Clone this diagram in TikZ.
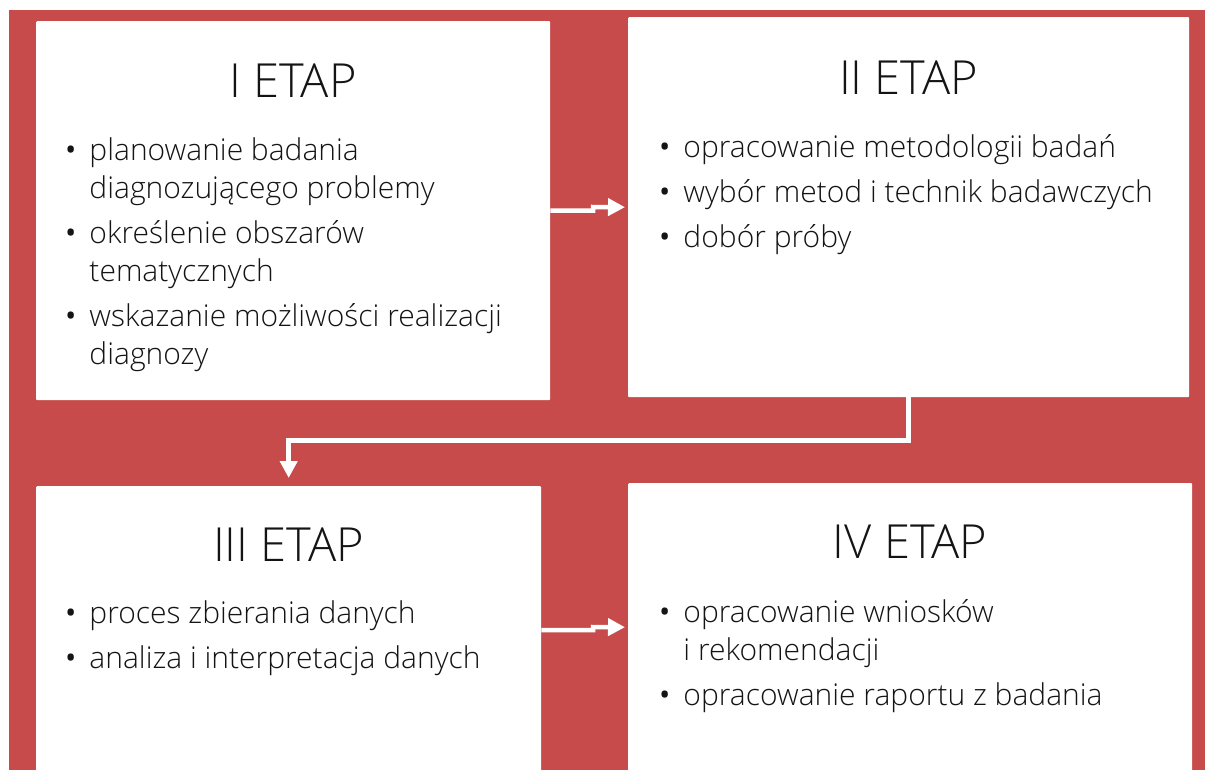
\documentclass[tikz,border=0pt]{standalone}
\usepackage{fontspec}
\setmainfont{Open Sans Light}
\newfontfamily\pktfont{Open Sans}
\usetikzlibrary{arrows.meta,positioning,calc}
\definecolor{tlo}{RGB}{198,75,74}
\definecolor{tekst}{RGB}{20,20,20}
\newcommand{\pkt}{{\pktfont\textbullet}}

\tikzset{
  etap/.style={fill=white,anchor=north west,inner sep=0pt,rounded corners=1pt},
  tytul/.style={anchor=base,inner sep=0pt,text=tekst,
                font=\fontsize{47}{47}\selectfont},
  lista/.style={anchor=base west,inner sep=0pt,text=tekst,
                font=\fontsize{30}{38}\selectfont},
  strzalka/.style={draw=white,line width=4.5pt,
                   -{Triangle[length=17pt,width=17pt]}}
}

\begin{document}
\begin{tikzpicture}[x=1pt,y=-1pt]
  \useasboundingbox (0,0) rectangle (1205,769);
  \clip (0,0) rectangle (1205,769);
  \fill[tlo] (9,10) rectangle (1215,780);

  % bloki etapow
  \node[etap,minimum width=514pt,minimum height=379pt] (b1) at (36,21) {};
  \node[etap,minimum width=561pt,minimum height=380pt] (b2) at (628,17) {};
  \node[etap,minimum width=505pt,minimum height=288pt] (b3) at (36,486) {};
  \node[etap,minimum width=564pt,minimum height=288pt] (b4) at (628,483) {};

  \node[tytul] (t1) at (293,97) {I ETAP};
  \node[tytul] (t2) at (908.5,94) {II ETAP};
  \node[tytul] (t3) at (288.5,561) {III ETAP};
  \node[tytul] (t4) at (910,558) {IV ETAP};

  \node[lista] (l1) at (65,160) {\begin{tabular}[t]{@{}l@{\hspace{13pt}}l@{}}
    \pkt & planowanie badania\\
         & diagnozującego problemy\\[7pt]
    \pkt & określenie obszarów\\
         & tematycznych\\[7pt]
    \pkt & wskazanie możliwości realizacji\\
         & diagnozy
  \end{tabular}};
  \node[lista] (l2) at (659,157) {\begin{tabular}[t]{@{}l@{\hspace{13pt}}l@{}}
    \pkt & opracowanie metodologii badań\\[7pt]
    \pkt & wybór metod i technik badawczych\\[7pt]
    \pkt & dobór próby
  \end{tabular}};
  \node[lista] (l3) at (65,623) {\begin{tabular}[t]{@{}l@{\hspace{13pt}}l@{}}
    \pkt & proces zbierania danych\\[7pt]
    \pkt & analiza i interpretacja danych
  \end{tabular}};
  \node[lista] (l4) at (659,622) {\begin{tabular}[t]{@{}l@{\hspace{13pt}}l@{}}
    \pkt & opracowanie wniosków\\
         & i rekomendacji\\[7pt]
    \pkt & opracowanie raportu z badania
  \end{tabular}};

  % polaczenia
  \draw[strzalka,shorten >=3pt] (b1.east) -| (593,207) -- (b2.west);
  \draw[strzalka,shorten >=8pt] (b2.south) -- ++(0,43) -| (b3.north);
  \draw[strzalka,shorten >=3pt] (b3.east) -| (593,627) -- (b4.west);
\end{tikzpicture}
\end{document}
